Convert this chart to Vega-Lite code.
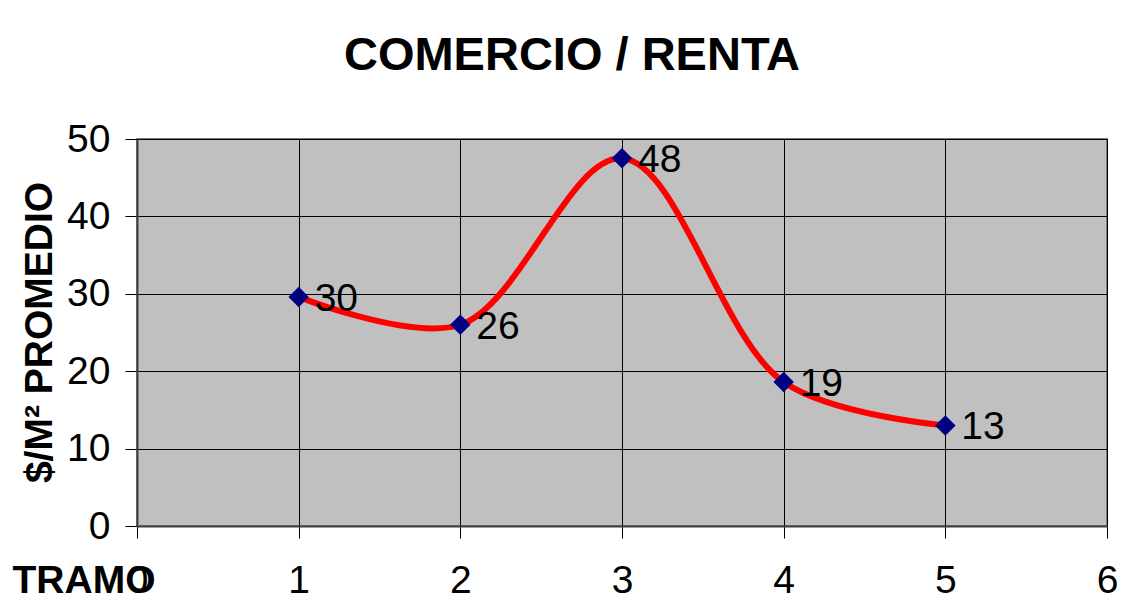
{
  "$schema": "https://vega.github.io/schema/vega-lite/v6.json",
  "autosize": "none",
  "width": 970,
  "height": 387,
  "padding": {"left": 137, "top": 139, "right": 22, "bottom": 87},
  "background": "white",
  "config": {
    "font": "Liberation Sans",
    "view": {"fill": "#C0C0C0", "stroke": "#808080", "strokeWidth": 2}
  },
  "title": {
    "text": "COMERCIO / RENTA",
    "font": "Liberation Sans",
    "fontSize": 47,
    "fontWeight": "bold",
    "color": "black",
    "anchor": "middle",
    "dx": -50,
    "baseline": "alphabetic",
    "offset": 3
  },
  "data": {
    "values": [
      {"tramo": 1, "valor": 29.6, "label": "30"},
      {"tramo": 2, "valor": 26.0, "label": "26"},
      {"tramo": 3, "valor": 47.5, "label": "48"},
      {"tramo": 4, "valor": 18.6, "label": "19"},
      {"tramo": 5, "valor": 13.0, "label": "13"}
    ]
  },
  "encoding": {
    "x": {
      "field": "tramo",
      "type": "quantitative",
      "scale": {"domain": [0, 6], "nice": false, "zero": true},
      "axis": {
        "values": [0, 1, 2, 3, 4, 5, 6],
        "title": "TRAMO",
        "titleFont": "Liberation Sans",
        "titleFontSize": 39,
        "titleFontWeight": "bold",
        "titleColor": "black",
        "titleAlign": "left",
        "titleBaseline": "middle",
        "titleX": -125,
        "titleY": 54,
        "labelFont": "Liberation Sans",
        "labelFontSize": 39,
        "labelColor": "black",
        "labelBaseline": "middle",
        "labelPadding": 42,
        "tickSize": 12,
        "tickColor": "black",
        "domainColor": "#404040",
        "domainWidth": 2,
        "grid": true,
        "gridColor": "black",
        "gridWidth": 1,
        "labelFlush": false
      }
    },
    "y": {
      "field": "valor",
      "type": "quantitative",
      "scale": {"domain": [0, 50], "nice": false},
      "axis": {
        "values": [0, 10, 20, 30, 40, 50],
        "title": "$/M² PROMEDIO",
        "titleFont": "Liberation Sans",
        "titleFontSize": 39,
        "titleFontWeight": "bold",
        "titleColor": "black",
        "titleAngle": -90,
        "titleAlign": "center",
        "titleBaseline": "middle",
        "titleX": -98,
        "titleY": 193,
        "labelFont": "Liberation Sans",
        "labelFontSize": 39,
        "labelColor": "black",
        "labelPadding": 15,
        "tickSize": 12,
        "tickColor": "black",
        "domainColor": "#404040",
        "domainWidth": 2,
        "grid": true,
        "gridColor": "black",
        "gridWidth": 1,
        "labelFlush": false
      }
    }
  },
  "layer": [
    {
      "mark": {"type": "line", "color": "red", "strokeWidth": 6, "interpolate": "catmull-rom"}
    },
    {
      "mark": {"type": "point", "shape": "diamond", "filled": true, "color": "#000080", "opacity": 1, "size": 420}
    },
    {
      "mark": {"type": "text", "align": "left", "baseline": "middle", "dx": 16, "dy": 2, "fontSize": 39, "font": "Liberation Sans", "color": "black"},
      "encoding": {"text": {"field": "label"}}
    }
  ]
}
